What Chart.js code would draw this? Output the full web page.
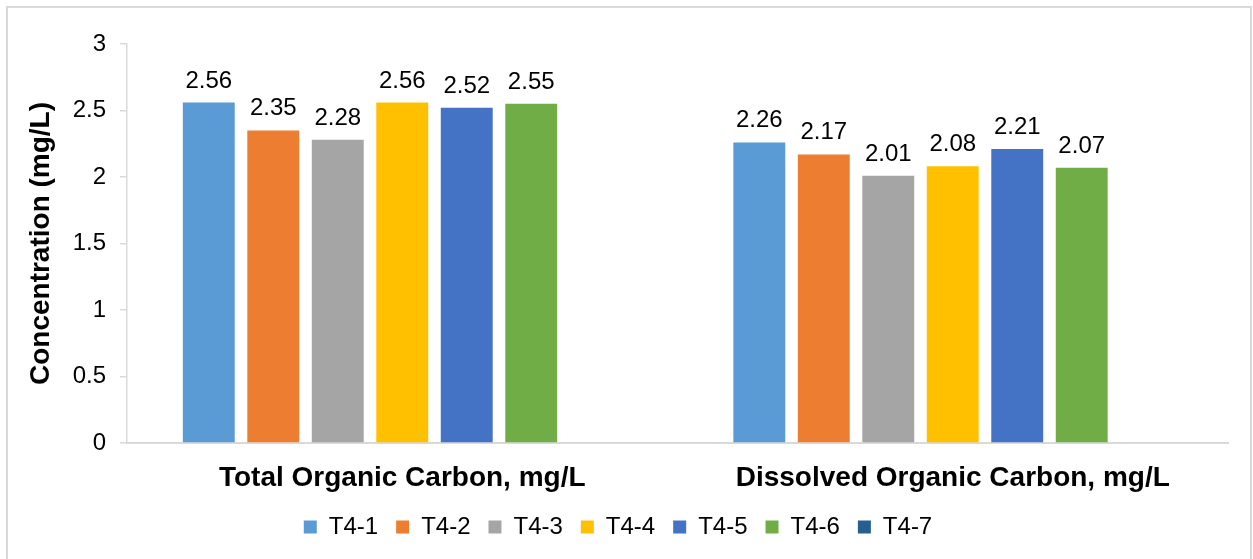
<!DOCTYPE html>
<html>
<head>
<meta charset="utf-8">
<script src="https://cdn.jsdelivr.net/npm/chart.js@4/dist/chart.umd.min.js"></script>
<style>
  html, body { margin: 0; padding: 0; background: #ffffff; }
  #wrap { position: relative; width: 1253px; height: 559px; }
  canvas { display: block; }
</style>
</head>
<body>
<div id="wrap"><canvas id="c" width="1253" height="559"></canvas></div>
<script>
// Categories on the x axis
const categories = ['Total Organic Carbon, mg/L', 'Dissolved Organic Carbon, mg/L'];

// One series per sampling point
const seriesNames = ['T4-1', 'T4-2', 'T4-3', 'T4-4', 'T4-5', 'T4-6', 'T4-7'];
const t4_1 = [2.56, 2.26];
const t4_2 = [2.35, 2.17];
const t4_3 = [2.28, 2.01];
const t4_4 = [2.56, 2.08];
const t4_5 = [2.52, 2.21];
const t4_6 = [2.55, 2.07];
const t4_7 = [null, null];

// Y axis tick labels (0 to 3 in steps of 0.5)
const yTickValues = [0, 0.5, 1, 1.5, 2, 2.5, 3];
const yTickLabels = ['0', '0.5', '1', '1.5', '2', '2.5', '3'];

const seriesValues = [t4_1, t4_2, t4_3, t4_4, t4_5, t4_6, t4_7];
const seriesColors = ['#5B9BD5', '#ED7D31', '#A5A5A5', '#FFC000', '#4472C4', '#70AD47', '#255E91'];

const FONT = "'Liberation Sans', Arial, Helvetica, sans-serif";
const TEXT = '#000000';
const AXIS = '#D9D9D9';

// Value labels printed above each bar
const barValueLabels = {
  id: 'barValueLabels',
  afterDatasetsDraw(chart) {
    const ctx = chart.ctx;
    ctx.save();
    ctx.font = '24px ' + FONT;
    ctx.fillStyle = TEXT;
    ctx.textAlign = 'center';
    ctx.textBaseline = 'alphabetic';
    chart.data.datasets.forEach((ds, di) => {
      const meta = chart.getDatasetMeta(di);
      if (meta.hidden) return;
      meta.data.forEach((bar, i) => {
        const v = ds.data[i];
        if (v === null || v === undefined) return;
        ctx.fillText(v.toFixed(2), bar.x, bar.y - 15);
      });
    });
    ctx.restore();
  }
};

// Light grey frame around the whole chart
const chartFrame = {
  id: 'chartFrame',
  beforeDraw(chart) {
    const ctx = chart.ctx;
    ctx.save();
    ctx.fillStyle = '#ffffff';
    ctx.fillRect(0, 0, chart.width, chart.height);
    ctx.strokeStyle = '#D9D9D9';
    ctx.lineWidth = 2;
    ctx.strokeRect(7, 7, 1244, 600);
    ctx.restore();
  }
};

// Fixed legend height
const legendHeight = {
  id: 'legendHeight',
  beforeInit(chart) {
    const fit = chart.legend.fit;
    chart.legend.fit = function () {
      fit.call(this);
      this.height = 60;
    };
  }
};

new Chart(document.getElementById('c'), {
  type: 'bar',
  data: {
    labels: categories,
    datasets: seriesNames.map((name, i) => ({
      label: name,
      data: seriesValues[i],
      backgroundColor: seriesColors[i],
      borderWidth: 0,
      categoryPercentage: 0.82,
      barPercentage: 0.805
    }))
  },
  options: {
    responsive: false,
    animation: false,
    devicePixelRatio: 1,
    layout: { padding: { left: 8, right: 25, top: 44, bottom: 2 } },
    plugins: {
      legend: {
        position: 'bottom',
        labels: {
          font: { family: FONT, size: 24 },
          color: TEXT,
          boxWidth: 13,
          boxHeight: 13,
          padding: 18
        }
      },
      tooltip: { enabled: false }
    },
    scales: {
      x: {
        grid: { display: false, drawTicks: false },
        border: { display: true, color: AXIS, width: 2 },
        ticks: {
          font: { family: FONT, size: 28, weight: 'bold' },
          color: TEXT,
          padding: 18,
          maxRotation: 0
        },
        afterFit(scale) { scale.height = 54; }
      },
      y: {
        min: 0,
        max: 3,
        afterBuildTicks(scale) {
          scale.ticks = yTickValues.map(v => ({ value: v }));
        },
        grid: { drawOnChartArea: false, drawTicks: true, tickLength: 7, color: AXIS, lineWidth: 1.5 },
        border: { display: true, color: AXIS, width: 1.5 },
        ticks: {
          font: { family: FONT, size: 24 },
          color: TEXT,
          padding: 14,
          callback: (v, i) => yTickLabels[i]
        },
        title: {
          display: true,
          text: 'Concentration (mg/L)',
          font: { family: FONT, size: 28, weight: 'bold' },
          color: TEXT,
          padding: { top: 16, bottom: 0 }
        },
        afterFit(scale) { scale.width = 119; }
      }
    }
  },
  plugins: [chartFrame, barValueLabels, legendHeight]
});
</script>
</body>
</html>
